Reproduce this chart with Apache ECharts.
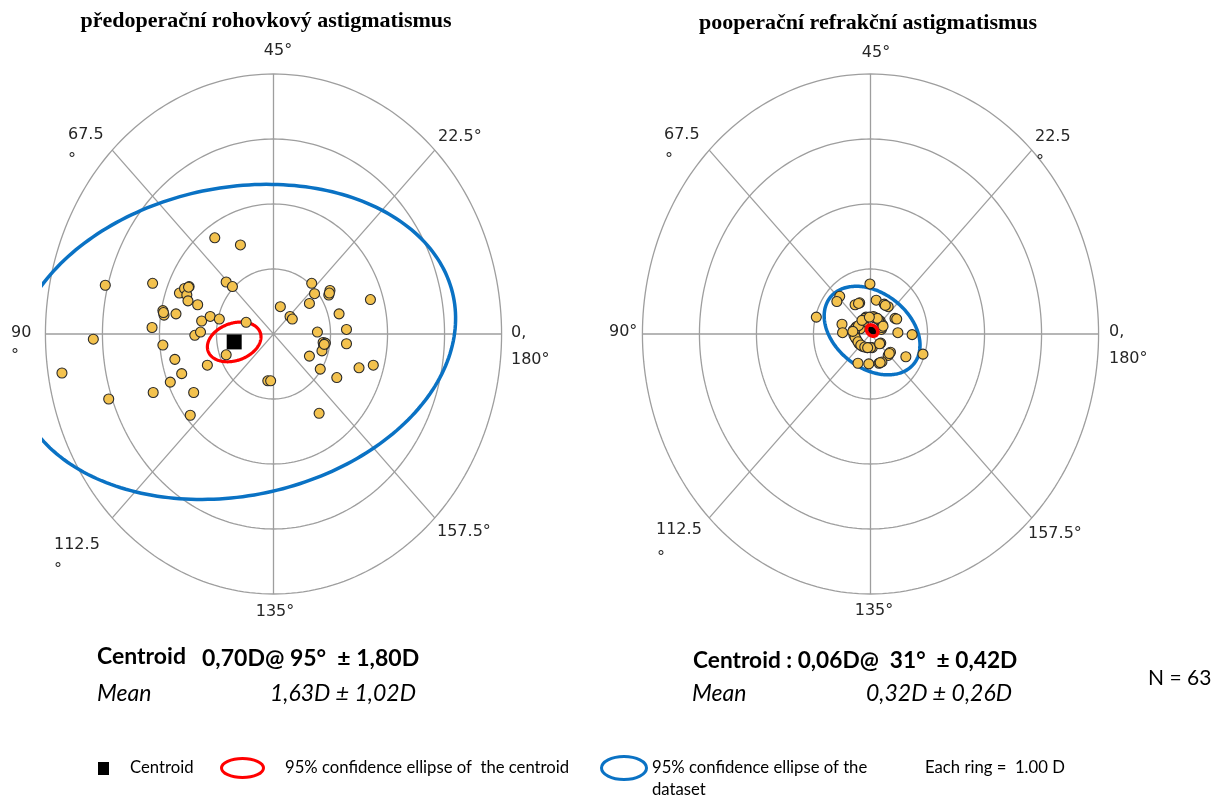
<!DOCTYPE html>
<html>
<head>
<meta charset="utf-8">
<script src="https://cdn.jsdelivr.net/npm/echarts@6/dist/echarts.min.js"></script>
<style>
  html, body { margin: 0; padding: 0; background: #ffffff; }
  #chart { width: 1225px; height: 798px; }
</style>
</head>
<body>
<div id="chart"></div>
<script>
// ---------------- data ----------------
// Double-angle plots: each eye is a vector of length = astigmatism (D)
// drawn at twice its axis. Values are [x, y] in dioptres.
const ringRadii = [1, 2, 3, 4];            // each ring = 1.00 D
const spokeAxes = [0, 22.5, 45, 67.5];     // meridians (deg), drawn at double angle

const titles = ['předoperační rohovkový astigmatismus', 'pooperační refrakční astigmatismus'];

// pre-operative corneal astigmatism
const prePoints = [
  [-1.03, 1.48], [-0.58, 1.37], [-2.12, 0.78], [-0.83, 0.80], [-0.72, 0.73],
  [-1.65, 0.63], [-1.56, 0.70], [-1.48, 0.73], [-1.52, 0.60], [-1.50, 0.51],
  [-1.33, 0.45], [-1.94, 0.36], [-1.92, 0.29], [-1.71, 0.31], [-1.26, 0.20],
  [-1.11, 0.27], [-0.95, 0.23], [-0.48, 0.18], [-2.13, 0.10], [-1.38, -0.02],
  [-1.28, 0.03], [-1.94, -0.17], [-0.83, -0.32], [-1.73, -0.39], [-1.16, -0.48],
  [-1.61, -0.61], [-1.81, -0.74], [-2.11, -0.90], [-1.40, -0.90], [-1.46, -1.25],
  [-0.10, -0.72], [-0.05, -0.72], [0.12, 0.42], [0.29, 0.27], [0.33, 0.23],
  [0.67, 0.78], [0.72, 0.62], [0.99, 0.67], [0.97, 0.60], [0.63, 0.47],
  [1.70, 0.53], [1.15, 0.31], [0.77, 0.03], [1.28, 0.07], [1.28, -0.15],
  [0.87, -0.13], [0.91, -0.14], [0.88, -0.18], [0.85, -0.26], [0.63, -0.34],
  [0.82, -0.54], [1.11, -0.67], [1.50, -0.52], [1.75, -0.48], [0.80, -1.22],
  [-2.95, 0.75], [-3.16, -0.08], [-3.71, -0.60], [-2.89, -1.00], [-1.49, 0.72],
  [-1.93, 0.33], [0.89, -0.16], [0.98, 0.63]
];

// post-operative refractive astigmatism
const postPoints = [
  [-0.01, 0.77], [-0.54, 0.58], [-0.59, 0.50], [-0.95, 0.26], [-0.27, 0.45],
  [-0.19, 0.48], [0.10, 0.52], [0.24, 0.46], [0.31, 0.42], [-0.08, 0.26],
  [0.05, 0.27], [0.11, 0.24], [0.17, 0.20], [0.21, 0.14], [0.19, 0.07],
  [0.43, 0.24], [0.48, 0.02], [0.73, -0.01], [-0.50, 0.15], [-0.49, 0.02],
  [-0.30, 0.06], [-0.25, 0.11], [-0.29, -0.02], [-0.25, -0.08], [-0.20, -0.15],
  [-0.14, -0.19], [-0.06, -0.21], [0.03, -0.21], [0.18, -0.14], [0.35, -0.28],
  [0.31, -0.33], [0.62, -0.35], [0.92, -0.31], [0.20, -0.43], [0.15, -0.45],
  [-0.03, -0.46], [-0.22, -0.45], [-0.12, 0.19], [-0.18, 0.08], [-0.10, 0.24],
  [0.07, 0.25], [0.14, 0.22], [0.20, 0.10], [-0.28, 0.02], [-0.27, -0.05],
  [-0.22, -0.12], [-0.17, -0.17], [-0.10, -0.20], [0.00, -0.21], [0.16, -0.15],
  [-0.26, 0.09], [-0.21, 0.13], [-0.15, 0.21], [0.33, -0.30], [0.17, -0.44],
  [-0.21, 0.47], [0.26, 0.44], [0.12, 0.24], [-0.05, -0.21], [-0.31, 0.04],
  [0.22, 0.12], [0.46, 0.23], [-0.02, 0.26]
];

// centroid magnitude (D), axis (deg) and its spread (D)
const centroidMag = [0.70, 0.06];
const centroidAxis = [95, 31];
const centroidSD = [1.80, 0.42];
const meanMag = [1.63, 0.32];
const meanSD = [1.02, 0.26];
const sampleSize = 63;

// 95 % confidence ellipses: [semi-major, semi-minor, tilt deg] in D, centred on the centroid
const centroidEllipse = [[0.48, 0.29, 14.7], [0.105, 0.08, -30]];
const datasetEllipse = [[3.91, 2.38, 8.5], [0.90, 0.60, -28.7]];

// ---------------- helpers ----------------
const GRID_GREY = '#9e9e9e';
const POINT_FILL = '#F3C24E';
const RED = '#FF0000';
const BLUE = '#0A72C4';
const XR = 4.06;
const YR = 4;

function dblAngle(mag, axisDeg) {
  const t = 2 * axisDeg * Math.PI / 180;
  return [mag * Math.cos(t), mag * Math.sin(t)];
}
function dec(v) { return v.toFixed(2).replace('.', ','); }

function renderRing(params, api) {
  const r = api.value(0);
  const pts = [];
  for (let k = 0; k < 240; k++) {
    const u = k / 240 * 2 * Math.PI;
    pts.push(api.coord([r * Math.cos(u), r * Math.sin(u)]));
  }
  return { type: 'polygon', shape: { points: pts },
    style: { fill: 'none', stroke: GRID_GREY, lineWidth: 1.3 } };
}
function renderSpoke(params, api) {
  const t = 2 * api.value(0) * Math.PI / 180;
  const R = ringRadii[ringRadii.length - 1];
  const p1 = api.coord([-R * Math.cos(t), -R * Math.sin(t)]);
  const p2 = api.coord([R * Math.cos(t), R * Math.sin(t)]);
  return { type: 'line', shape: { x1: p1[0], y1: p1[1], x2: p2[0], y2: p2[1] },
    style: { stroke: GRID_GREY, lineWidth: 1.3 } };
}
function ellipseRenderer(color, width) {
  return function (params, api) {
    const cx = api.value(0), cy = api.value(1);
    const a = api.value(2), b = api.value(3), t = api.value(4) * Math.PI / 180;
    const pts = [];
    for (let k = 0; k < 240; k++) {
      const u = k / 240 * 2 * Math.PI;
      const ex = a * Math.cos(u), ey = b * Math.sin(u);
      pts.push(api.coord([cx + ex * Math.cos(t) - ey * Math.sin(t),
                          cy + ex * Math.sin(t) + ey * Math.cos(t)]));
    }
    return { type: 'polygon', shape: { points: pts },
      style: { fill: 'none', stroke: color, lineWidth: width } };
  };
}

const pointSets = [prePoints, postPoints];
const centroidSize = [15, 8];
const redZ = [4, 6];        // the small post-op ellipse sits above the crowded points
const redWidth = [3.2, 3.6];
const series = [];
for (let i = 0; i < 2; i++) {
  const c = dblAngle(centroidMag[i], centroidAxis[i]);
  series.push(
    { type: 'custom', xAxisIndex: i, yAxisIndex: i, z: 1, silent: true,
      data: ringRadii.map(r => [r, 0]), encode: { x: 0, y: 1 }, renderItem: renderRing },
    { type: 'custom', xAxisIndex: i, yAxisIndex: i, z: 1, silent: true,
      data: spokeAxes.map(a => [a, 0]), encode: { x: 0, y: 1 }, renderItem: renderSpoke },
    { type: 'custom', xAxisIndex: i, yAxisIndex: i, z: 2, clip: true, silent: true,
      data: [[c[0], c[1]].concat(datasetEllipse[i])], encode: { x: 0, y: 1 },
      renderItem: ellipseRenderer(BLUE, 3.5) },
    { type: 'scatter', xAxisIndex: i, yAxisIndex: i, z: 3, symbol: 'rect', silent: true,
      symbolSize: centroidSize[i], itemStyle: { color: '#000000', opacity: 1 }, data: [c] },
    { type: 'custom', xAxisIndex: i, yAxisIndex: i, z: redZ[i], clip: true, silent: true,
      data: [[c[0], c[1]].concat(centroidEllipse[i])], encode: { x: 0, y: 1 },
      renderItem: ellipseRenderer(RED, redWidth[i]) },
    { type: 'scatter', xAxisIndex: i, yAxisIndex: i, z: 5, symbol: 'circle', symbolSize: 10, silent: true,
      itemStyle: { color: POINT_FILL, borderColor: '#2a2a2a', borderWidth: 1.1, opacity: 1 },
      data: pointSets[i] }
  );
}

// ---------------- text ----------------
const SANS = 'DejaVu Sans, Verdana, sans-serif';
const BODY = 'Lato, "Open Sans", sans-serif';
function txt(x, y, text, opt) {
  opt = opt || {};
  return { type: 'text', x: x, y: y, silent: true, z: 10,
    style: { text: text, fill: opt.fill || '#000', align: opt.align || 'left',
      verticalAlign: 'middle', fontFamily: opt.family || BODY,
      fontSize: opt.size || 16, fontWeight: opt.weight || 'normal',
      fontStyle: opt.style || 'normal' } };
}
const ang = { family: SANS, size: 16, fill: '#262626' };
const angC = Object.assign({}, ang, { align: 'center' });

const graphics = [
  txt(266, 21, titles[0], { family: 'Liberation Serif, Times New Roman, serif', size: 22, weight: 'bold', align: 'center' }),
  txt(868, 23, titles[1], { family: 'Liberation Serif, Times New Roman, serif', size: 22, weight: 'bold', align: 'center' }),

  // meridian labels, pre-op plot
  txt(278, 51, '45°', angC),
  txt(438, 137, '22.5°', ang),
  txt(68, 135, '67.5', ang), txt(68, 160, '°', ang),
  txt(11, 333, '90', ang), txt(11, 356, '°', ang),
  txt(511, 333, '0,', ang), txt(511, 360, '180°', ang),
  txt(54, 545, '112.5', ang), txt(54, 570, '°', ang),
  txt(275, 612, '135°', angC),
  txt(437, 532, '157.5°', ang),

  // meridian labels, post-op plot
  txt(876, 53, '45°', angC),
  txt(1035, 137, '22.5', ang), txt(1036, 162, '°', ang),
  txt(664, 135, '67.5', ang), txt(665, 160, '°', ang),
  txt(609, 332, '90°', ang),
  txt(1109, 332, '0,', ang), txt(1109, 359, '180°', ang),
  txt(656, 530, '112.5', ang), txt(657, 558, '°', ang),
  txt(874, 611, '135°', angC),
  txt(1028, 534, '157.5°', ang),

  // summary statistics
  txt(97, 657, 'Centroid', { size: 23, weight: 'bold' }),
  txt(202, 659, dec(centroidMag[0]) + 'D@ ' + centroidAxis[0] + '°  ± ' + dec(centroidSD[0]) + 'D', { size: 23, weight: 'bold' }),
  txt(97, 694, 'Mean', { size: 23, style: 'italic' }),
  txt(270, 694, dec(meanMag[0]) + 'D ± ' + dec(meanSD[0]) + 'D', { size: 23, style: 'italic' }),
  txt(693, 661, 'Centroid : ' + dec(centroidMag[1]) + 'D@  ' + centroidAxis[1] + '°  ± ' + dec(centroidSD[1]) + 'D', { size: 22.7, weight: 'bold' }),
  txt(692, 694, 'Mean', { size: 23, style: 'italic' }),
  txt(866, 694, dec(meanMag[1]) + 'D ± ' + dec(meanSD[1]) + 'D', { size: 23, style: 'italic' }),
  txt(1148, 678, 'N = ' + sampleSize, { size: 21 }),

  // key
  { type: 'rect', shape: { x: 98, y: 762, width: 11, height: 13 }, style: { fill: '#000' }, silent: true },
  txt(130, 768, 'Centroid', { size: 16.7 }),
  { type: 'ellipse', shape: { cx: 242.5, cy: 768, rx: 21, ry: 9.5 }, style: { fill: 'none', stroke: RED, lineWidth: 3 }, silent: true },
  txt(285, 768, '95% confidence ellipse of  the centroid', { size: 16.7 }),
  { type: 'ellipse', shape: { cx: 624, cy: 768, rx: 22.5, ry: 11.5 }, style: { fill: 'none', stroke: BLUE, lineWidth: 3 }, silent: true },
  txt(652, 768, '95% confidence ellipse of the', { size: 16.7 }),
  txt(652, 790, 'dataset', { size: 16.7 }),
  txt(925, 768, 'Each ring =  1.00 D', { size: 16.7 })
];

const chart = echarts.init(document.getElementById('chart'), null, { renderer: 'canvas' });
chart.setOption({
  animation: false,
  backgroundColor: '#ffffff',
  grid: [
    { left: 42, top: 74, width: 463, height: 520 },
    { left: 639, top: 74, width: 463, height: 520 }
  ],
  xAxis: [0, 1].map(i => ({ gridIndex: i, type: 'value', min: -XR, max: XR, show: false, splitLine: { show: false } })),
  yAxis: [0, 1].map(i => ({ gridIndex: i, type: 'value', min: -YR, max: YR, show: false, splitLine: { show: false } })),
  series: series,
  graphic: graphics
});
</script>
</body>
</html>
